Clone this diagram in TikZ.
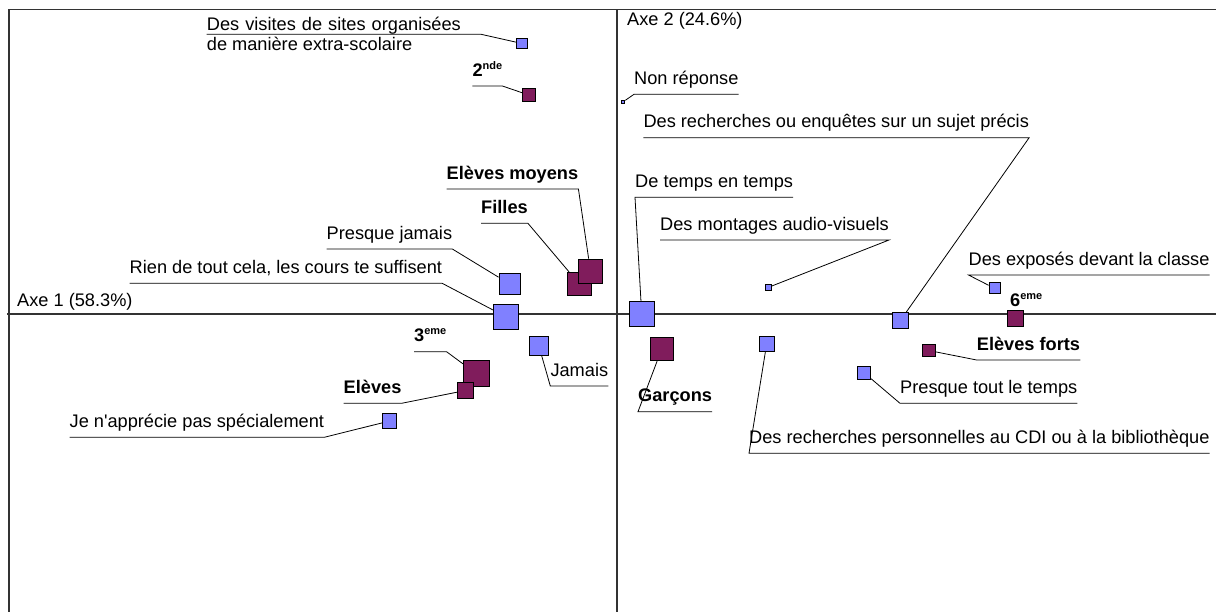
\documentclass[tikz,border=0pt]{standalone}
\usepackage{fontspec}
\setmainfont{Liberation Sans}[Ligatures=TeXOff]
\definecolor{repbleu}{RGB}{128,128,255}
\definecolor{grpviolet}{RGB}{128,28,92}
\newcommand\expo[1]{\raisebox{7pt}{\fontsize{11}{11}\selectfont #1}}

\begin{document}
\begin{tikzpicture}[x=1pt,y=-1pt,
		rep/.style={draw=black,line width=0.8pt,fill=repbleu,inner sep=0pt,minimum size=#1},
		grp/.style={draw=black,line width=0.8pt,fill=grpviolet,inner sep=0pt,minimum size=#1},
		lab/.style={anchor=south west,inner sep=0pt,text depth=9.5pt,font=\fontsize{18.2}{20}\selectfont},
		blab/.style={lab,font=\fontsize{18.2}{20}\selectfont\bfseries},
		axe/.style={anchor=base west,inner sep=0pt,font=\fontsize{18.2}{20}\selectfont},
		lead/.style={line width=0.8pt},
		cadre/.style={line width=1.2pt,black!80}]
				\useasboundingbox(0,0)rectangle(1216,612);
				\draw[cadre](9,612)--(9,9.3)--(1216,9.3);
				\draw[cadre](7,314)--(1216,314);
				\draw[cadre](617,9.3)--(617,612);
				\node[axe](axe1)at(17,306.7){Axe 1 (58.3\%)};
				\node[axe](axe2)at(627,26){Axe 2 (24.6\%)};
				\node[rep=10.5pt](pVisites)at(522,43.5){};
				\node[grp=12.5pt](pSeconde)at(528.7,95){};
				\node[rep=3pt](pNonrep)at(623.3,101.7){};
				\node[rep=21.5pt](pPjamais)at(509.7,284){};
				\node[grp=23.5pt](pFilles)at(579.3,284){};
				\node[grp=24.5pt](pMoyens)at(590.5,271.3){};
				\node[rep=25pt](pRien)at(505.8,316.7){};
				\node[rep=24.5pt](pDetemps)at(641.7,314){};
				\node[rep=6pt](pMontages)at(768,287.5){};
				\node[rep=11pt](pExposes)at(994.5,288.3){};
				\node[rep=16pt](pEnquetes)at(900.5,320.3){};
				\node[grp=16pt](pSixieme)at(1015,318.3){};
				\node[grp=25.5pt](pTroisieme)at(476.2,373.6){};
				\node[grp=16pt](pEleves)at(465.5,390.5){};
				\node[rep=19.5pt](pJamais)at(538.8,345.7){};
				\node[grp=23.5pt](pGarcons)at(661.7,349){};
				\node[rep=14.5pt](pPerso)at(766.7,343.7){};
				\node[grp=12.5pt](pForts)at(928.7,350.5){};
				\node[rep=13pt](pPtout)at(864,372.7){};
				\node[rep=14.3pt](pJapprecie)at(389.7,421){};
				\node[lab,text depth=3.5pt,text width=274pt](visites)at(206.7,34.3){Des visites de sites organisées};
				\node[axe](visites2)at(206.7,51){de manière extra-scolaire};
				\node[blab](seconde)at(472.3,86){2\expo{nde}};
				\node[lab](nonrep)at(634,94.3){Non réponse};
				\node[lab](enquetes)at(643.3,137.7){Des recherches ou enquêtes sur un sujet précis};
				\node[blab](moyens)at(446.5,189){Elèves moyens};
				\node[lab](detemps)at(635,197.3){De temps en temps};
				\node[blab](filles)at(481,223.3){Filles};
				\node[lab](montages)at(660,240){Des montages audio-visuels};
				\node[lab](pjamais)at(326.5,249){Presque jamais};
				\node[lab](exposes)at(968.5,275){Des exposés devant la classe};
				\node[lab](rien)at(129.5,283.3){Rien de tout cela, les cours te suffisent};
				\node[axe,font=\fontsize{18.2}{20}\selectfont\bfseries](sixieme)at(1010,306.7){6\expo{eme}};
				\node[blab](troisieme)at(414,351.7){3\expo{eme}};
				\node[blab](forts)at(976.7,360){Elèves forts};
				\node[lab](jamais)at(550.3,386){Jamais};
				\node[blab](eleves)at(343.5,403.3){Elèves};
				\node[lab](ptout)at(900,403.3){Presque tout le temps};
				\node[blab](garcons)at(638,411.7){Garçons};
				\node[lab](japprecie)at(69.5,437.3){Je n'apprécie pas spécialement};
				\node[lab](perso)at(749,453.3){Des recherches personnelles au CDI ou à la bibliothèque};
				\draw[lead](visites.south west)--(visites.south east)--(pVisites);
				\draw[lead](seconde.south west)--(seconde.south east)--(pSeconde);
				\draw[lead](nonrep.south east)--(nonrep.south west)--(pNonrep);
				\draw[lead](enquetes.south west)--(enquetes.south east)--(pEnquetes);
				\draw[lead](moyens.south west)--(moyens.south east)--(pMoyens);
				\draw[lead](detemps.south east)--(detemps.south west)--(pDetemps);
				\draw[lead](filles.south west)--(filles.south east)--(pFilles);
				\draw[lead](montages.south west)--(montages.south east)--(pMontages);
				\draw[lead](pjamais.south west)--(pjamais.south east)--(pPjamais);
				\draw[lead](exposes.south east)--(exposes.south west)--(pExposes);
				\draw[lead](rien.south west)--(rien.south east)--(pRien);
				\draw[lead](troisieme.south west)--(troisieme.south east)--(pTroisieme);
				\draw[lead](forts.south east)--(forts.south west)--(pForts);
				\draw[lead](jamais.south east)--(jamais.south west)--(pJamais);
				\draw[lead](eleves.south west)--(eleves.south east)--(pEleves);
				\draw[lead](ptout.south east)--(ptout.south west)--(pPtout);
				\draw[lead](garcons.south east)--(garcons.south west)--(pGarcons);
				\draw[lead](japprecie.south west)--(japprecie.south east)--(pJapprecie);
				\draw[lead](perso.south east)--(perso.south west)--(pPerso);
			\end{tikzpicture}
\end{document}
